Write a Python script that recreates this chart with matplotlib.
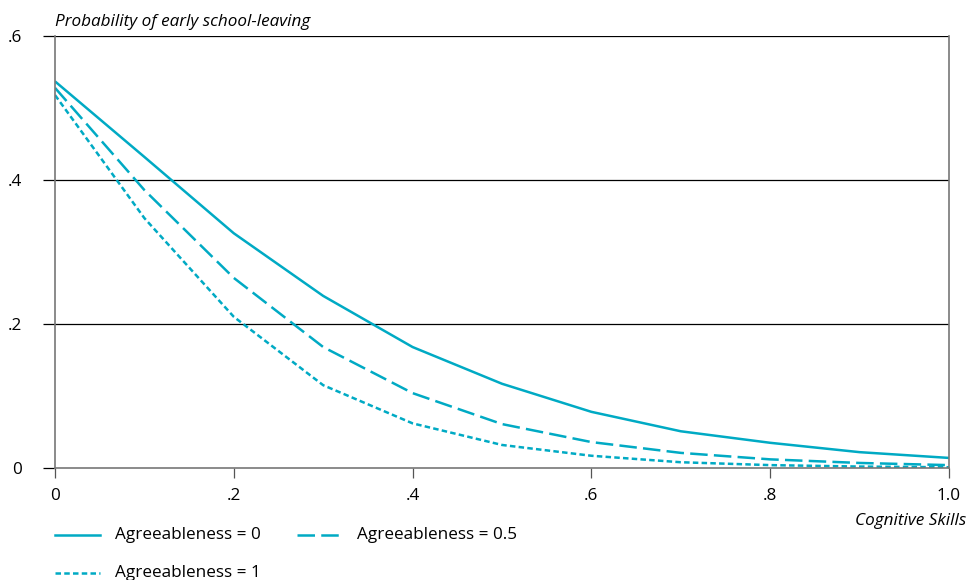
import numpy as np
import matplotlib
matplotlib.use("Agg")
import matplotlib.pyplot as plt
from matplotlib.lines import Line2D

plt.rcParams["font.family"] = ["Open Sans", "DejaVu Sans"]

# Data
cognitive = [0.0, 0.1, 0.2, 0.3, 0.4, 0.5, 0.6, 0.7, 0.8, 0.9, 1.0]
agree_0 = [0.537, 0.432, 0.326, 0.239, 0.168, 0.117, 0.078, 0.051, 0.035, 0.022, 0.014]
agree_05 = [0.528, 0.386, 0.264, 0.168, 0.104, 0.061, 0.036, 0.021, 0.012, 0.007, 0.004]
agree_1 = [0.518, 0.347, 0.210, 0.115, 0.062, 0.032, 0.017, 0.008, 0.004, 0.002, 0.001]

xticks = [0, 0.2, 0.4, 0.6, 0.8, 1.0]
xticklabels = ["0", ".2", ".4", ".6", ".8", "1.0"]
yticks = [0, 0.2, 0.4, 0.6]
yticklabels = ["0", ".2", ".4", ".6"]

color = "#00aac4"
lw = 1.8
fs = 12.3

fig = plt.figure(figsize=(9.68, 5.8), dpi=100)
ax = fig.add_axes([55 / 968, 1 - 468 / 580, 894 / 968, 432 / 580])

ax.plot(cognitive, agree_0, color=color, lw=lw, solid_capstyle="butt",
        label="Agreeableness = 0")
ax.plot(cognitive, agree_05, color=color, lw=lw, dashes=(7, 2.5),
        label="Agreeableness = 0.5")
ax.plot(cognitive, agree_1, color=color, lw=lw, dashes=(2.2, 1.3),
        label="Agreeableness = 1")

ax.set_xlim(0, 1.0)
ax.set_ylim(0, 0.6)

for y in yticks[1:]:
    ax.axhline(y, color="black", lw=0.9, zorder=0)

ax.set_xticks(xticks)
ax.set_xticklabels(xticklabels)
ax.set_yticks(yticks)
ax.set_yticklabels(yticklabels)
ax.tick_params(axis="x", length=7.5, width=0.9, color="#555555", pad=7,
               labelsize=fs)
ax.tick_params(axis="y", length=8.5, width=0.9, color="black", pad=15.5,
               labelsize=fs)

for side in ["left", "right", "bottom"]:
    ax.spines[side].set_color("#777777")
    ax.spines[side].set_linewidth(1.2)
ax.spines["top"].set_visible(False)

fig.text(55 / 968, 1 - 22 / 580, "Probability of early school-leaving",
         style="italic", fontsize=fs, ha="left", va="center")
fig.text(966 / 968, 1 - 521 / 580, "Cognitive Skills", style="italic",
         fontsize=fs, ha="right", va="center")

# Legend built by hand in figure coordinates
legend_items = [
    ("-", None, "Agreeableness = 0", 55, 535),
    ("--", (7, 2.5), "Agreeableness = 0.5", 297, 535),
    (":", (2.2, 1.3), "Agreeableness = 1", 55, 573),
]
for style, dash, text, x0, y0 in legend_items:
    yy = 1 - y0 / 580
    line = Line2D([x0 / 968, (x0 + 45) / 968], [yy, yy], color=color, lw=lw,
                  transform=fig.transFigure)
    if dash is not None:
        line.set_dashes(dash)
    fig.add_artist(line)
    fig.text((x0 + 60) / 968, yy, text, fontsize=fs, ha="left", va="center")

fig.savefig("out.png", dpi=100)
